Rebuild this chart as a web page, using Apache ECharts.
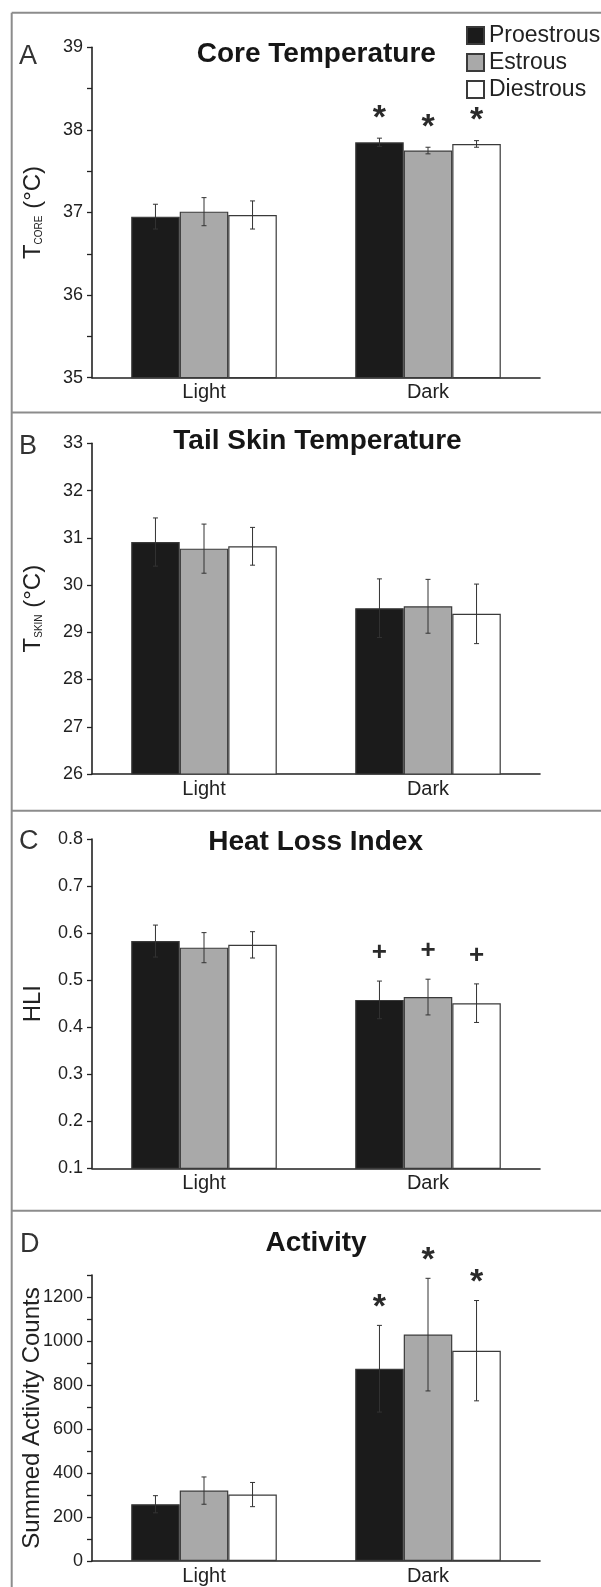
<!DOCTYPE html>
<html>
<head>
<meta charset="utf-8">
<script src="https://cdn.jsdelivr.net/npm/echarts@6/dist/echarts.min.js"></script>
<style>
html,body{margin:0;padding:0;background:#fff;}
#chart{width:601px;height:1587px;}
</style>
</head>
<body>
<div id="chart"></div>
<script>
// ---- data ----
const categories = ['Light', 'Dark'];
const states = ['Proestrous', 'Estrous', 'Diestrous'];

// values per state: [Light, Dark]
const coreMean = [[36.95, 37.85], [37.01, 37.75], [36.97, 37.83]];
const coreErr  = [[0.15, 0.05], [0.17, 0.04], [0.17, 0.04]];
const coreMark = [['', '*'], ['', '*'], ['', '*']];

const skinMean = [[30.91, 29.51], [30.77, 29.55], [30.82, 29.39]];
const skinErr  = [[0.51, 0.62], [0.52, 0.57], [0.40, 0.63]];
const skinMark = [['', ''], ['', ''], ['', '']];

const hliMean = [[0.583, 0.458], [0.569, 0.464], [0.575, 0.451]];
const hliErr  = [[0.034, 0.040], [0.032, 0.038], [0.028, 0.041]];
const hliMark = [['', '+'], ['', '+'], ['', '+']];

const actMean = [[258, 874], [320, 1029], [302, 956]];
const actErr  = [[39, 197], [62, 256], [55, 228]];
const actMark = [['', '*'], ['', '*'], ['', '*']];

const panelTitles = ['Core Temperature', 'Tail Skin Temperature', 'Heat Loss Index', 'Activity'];
const panelLetters = ['A', 'B', 'C', 'D'];

// ---- style ----
const F = '"Liberation Sans", Arial, sans-serif';
const fills = ['#1b1b1b', '#a9a9a9', '#ffffff'];
const axisColor = '#222';
const textColor = '#222';
const CAT_GAP = 0.35;

const grids = [
  {left: 92, top: 47.3, width: 448, height: 330.4},
  {left: 92, top: 443.3, width: 448, height: 330.7},
  {left: 92, top: 839, width: 448, height: 329.3},
  {left: 92, top: 1275, width: 448, height: 286}
];

const yDefs = [
  {min: 35, max: 39, interval: 0.5, fmt: v => (Math.abs(v - Math.round(v)) < 1e-6 ? String(Math.round(v)) : ''),
   name: '{t|T}{s|CORE}{t| (°C)}', gap: 44},
  {min: 26, max: 33, interval: 1, fmt: v => String(v),
   name: '{t|T}{s|SKIN}{t| (°C)}', gap: 44},
  {min: 0.1, max: 0.8, interval: 0.1, fmt: v => v.toFixed(1),
   name: '{t|HLI}', gap: 44},
  {min: 0, max: 1300, interval: 100, fmt: v => (Math.round(v) % 200 === 0 ? String(Math.round(v)) : ''),
   name: '{t|Summed Activity Counts}', gap: 45}
];

const panels = [
  [coreMean, coreErr, coreMark],
  [skinMean, skinErr, skinMark],
  [hliMean, hliErr, hliMark],
  [actMean, actErr, actMark]
];
const markOffset = [29, 29, 28.5, 27];

const xAxis = grids.map((g, i) => ({
  type: 'category', gridIndex: i, data: categories,
  axisLine: {lineStyle: {color: axisColor, width: 1.6}},
  axisTick: {show: false},
  axisLabel: {color: textColor, fontFamily: F, fontSize: 20, margin: 5}
}));

const yAxis = yDefs.map((d, i) => ({
  type: 'value', gridIndex: i, min: d.min, max: d.max, interval: d.interval,
  splitLine: {show: false},
  axisLine: {show: true, lineStyle: {color: axisColor, width: 1.6}},
  axisTick: {show: true, length: 5, lineStyle: {color: axisColor, width: 1.3}},
  axisLabel: {color: textColor, fontFamily: F, fontSize: 18, margin: 9, formatter: d.fmt},
  name: d.name, nameLocation: 'middle', nameRotate: 90, nameGap: d.gap,
  nameMoveOverlap: false,
  nameTextStyle: {
    rich: {
      t: {fontSize: 24, fontFamily: F, color: textColor, lineHeight: 30},
      s: {fontSize: 10, fontFamily: F, color: textColor, lineHeight: 14, verticalAlign: 'bottom', padding: [0, 0, 4, 0]}
    }
  }
}));

const series = [];
panels.forEach((p, pi) => {
  const [mean, err, mark] = p;
  states.forEach((s, si) => {
    series.push({
      type: 'bar', name: s, xAxisIndex: pi, yAxisIndex: pi,
      data: mean[si],
      barGap: '0%', barCategoryGap: (CAT_GAP * 100) + '%',
      itemStyle: {color: fills[si], borderColor: '#3a3a3a', borderWidth: 1.2},
      emphasis: {disabled: true},
      silent: true
    });
  });
  const eb = [];
  states.forEach((s, si) => {
    categories.forEach((c, ci) => {
      eb.push([ci, si, mean[si][ci], err[si][ci], mark[si][ci]]);
    });
  });
  series.push({
    type: 'custom', xAxisIndex: pi, yAxisIndex: pi, data: eb, z: 10, silent: true,
    encode: {x: 0, y: 2},
    renderItem: function (params, api) {
      const ci = api.value(0), si = api.value(1), m = api.value(2), e = api.value(3);
      const mk = eb[params.dataIndex][4];
      const band = api.size([1, 0])[0];
      const bw = band * (1 - CAT_GAP) / 3;
      const cx = api.coord([ci, m])[0] + (si - 1) * bw;
      const yTop = api.coord([ci, m + e])[1];
      const yBot = api.coord([ci, m - e])[1];
      const cap = 2.5;
      const st = {stroke: '#333', lineWidth: 1};
      const children = [
        {type: 'line', shape: {x1: cx, y1: yTop, x2: cx, y2: yBot}, style: st},
        {type: 'line', shape: {x1: cx - cap, y1: yTop, x2: cx + cap, y2: yTop}, style: st},
        {type: 'line', shape: {x1: cx - cap, y1: yBot, x2: cx + cap, y2: yBot}, style: st}
      ];
      if (mk) {
        const isStar = mk === '*';
        children.push({
          type: 'text', x: cx, y: yTop - markOffset[pi] + (isStar ? 9 : 0),
          style: {text: mk, fontFamily: F, fontWeight: 'bold', fontSize: isStar ? 34 : 26,
                  fill: '#2a2a2a', align: 'center', verticalAlign: 'middle'}
        });
      }
      return {type: 'group', children: children};
    }
  });
});

const border = {stroke: '#8c8c8c', lineWidth: 2};
const graphic = [
  {type: 'line', shape: {x1: 11.7, y1: 12.7, x2: 601, y2: 12.7}, style: border},
  {type: 'line', shape: {x1: 11.7, y1: 12.7, x2: 11.7, y2: 1587}, style: border},
  {type: 'line', shape: {x1: 11.7, y1: 412.5, x2: 601, y2: 412.5}, style: border},
  {type: 'line', shape: {x1: 11.7, y1: 810.7, x2: 601, y2: 810.7}, style: border},
  {type: 'line', shape: {x1: 11.7, y1: 1210.7, x2: 601, y2: 1210.7}, style: border}
];
const titlePos = [[316.3, 54.5], [317.5, 441], [315.6, 842], [316, 1243]];
const letterPos = [[19, 57], [19, 446.7], [19, 841.7], [20, 1245]];
panelTitles.forEach((t, i) => {
  graphic.push({type: 'text', x: titlePos[i][0], y: titlePos[i][1],
    style: {text: t, fontFamily: F, fontWeight: 'bold', fontSize: 28, fill: '#161616', align: 'center', verticalAlign: 'middle'}});
  graphic.push({type: 'text', x: letterPos[i][0], y: letterPos[i][1],
    style: {text: panelLetters[i], fontFamily: F, fontSize: 27, fill: '#333', align: 'left', verticalAlign: 'middle'}});
});

const chart = echarts.init(document.getElementById('chart'), null, {renderer: 'canvas'});
chart.setOption({
  animation: false,
  backgroundColor: '#fff',
  grid: grids,
  xAxis: xAxis,
  yAxis: yAxis,
  legend: {
    data: states, orient: 'vertical', left: 461, top: 19,
    itemWidth: 17, itemHeight: 17, itemGap: 4, icon: 'rect',
    textStyle: {fontFamily: F, fontSize: 23, color: '#222', lineHeight: 23},
    selectedMode: false
  },
  graphic: graphic,
  series: series
});
</script>
</body>
</html>
